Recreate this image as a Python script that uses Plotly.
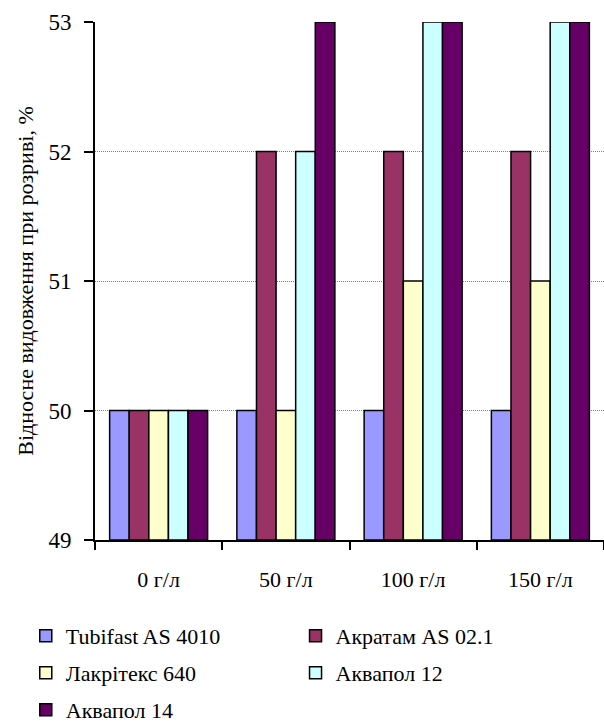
import plotly.graph_objects as go

categories = ["0 г/л", "50 г/л", "100 г/л", "150 г/л"]
series_names = ["Tubifast AS 4010", "Акратам AS 02.1", "Лакрітекс 640", "Аквапол 12", "Аквапол 14"]
tubifast = [50, 50, 50, 50]
akratam = [50, 52, 52, 52]
lakriteks = [50, 50, 51, 51]
akvapol12 = [50, 52, 53, 53]
akvapol14 = [50, 53, 53, 53]
series_values = [tubifast, akratam, lakriteks, akvapol12, akvapol14]
colors = ["#9999FF", "#993366", "#FFFFCC", "#CCFFFF", "#660066"]
y_ticks = [49, 50, 51, 52, 53]
y_floor = 49

font_family = "Liberation Serif"

# legend slots: two columns, three rows under the chart
legend_ids = ["legend", "legend2", "legend3", "legend4", "legend5"]
legend_pos = [(-0.136, -0.1853), (0.394, -0.1853),
              (-0.136, -0.2568), (0.394, -0.2568),
              (-0.136, -0.3282)]

fig = go.Figure()
for name, vals, col, lid in zip(series_names, series_values, colors, legend_ids):
    fig.add_trace(go.Bar(
        x=categories,
        y=[v - y_floor for v in vals],
        base=y_floor,
        name=name,
        legend=lid,
        marker=dict(color=col, line=dict(color="black", width=1.5)),
        hovertemplate="%{x}: %{customdata}<extra>" + name + "</extra>",
        customdata=vals,
    ))

legend_common = dict(
    orientation="h", xanchor="left", yanchor="middle",
    font=dict(family=font_family, size=22, color="black"),
    bgcolor="rgba(0,0,0,0)", borderwidth=0,
)
layout_legends = {}
for lid, (lx, ly) in zip(legend_ids, legend_pos):
    layout_legends[lid] = dict(legend_common, x=lx, y=ly)

fig.update_layout(
    width=604, height=724,
    margin=dict(l=95, r=0, t=22, b=184, autoexpand=False),
    paper_bgcolor="white", plot_bgcolor="white",
    barmode="group", bargap=0.23, bargroupgap=0,
    font=dict(family=font_family, size=22, color="black"),
    showlegend=True,
    xaxis=dict(
        showline=True, linecolor="black", linewidth=1.5,
        ticks="outside", tickson="boundaries", ticklen=8,
        tickcolor="black", tickwidth=1.5,
        tickfont=dict(family=font_family, size=22),
        ticklabelstandoff=19,
        showgrid=False,
    ),
    yaxis=dict(
        range=[49, 53], tickvals=y_ticks,
        showline=True, linecolor="black", linewidth=2,
        ticks="outside", ticklen=9, tickcolor="black", tickwidth=1.5,
        tickfont=dict(family=font_family, size=23),
        ticklabelstandoff=8,
        showgrid=True, gridcolor="#808080", gridwidth=1, griddash="1px,1px",
        zeroline=False,
        automargin=True,
        title=dict(text="Відносне видовження при розриві, %",
                   font=dict(family=font_family, size=22), standoff=9),
    ),
    **layout_legends,
)

fig.write_html("out.html")
